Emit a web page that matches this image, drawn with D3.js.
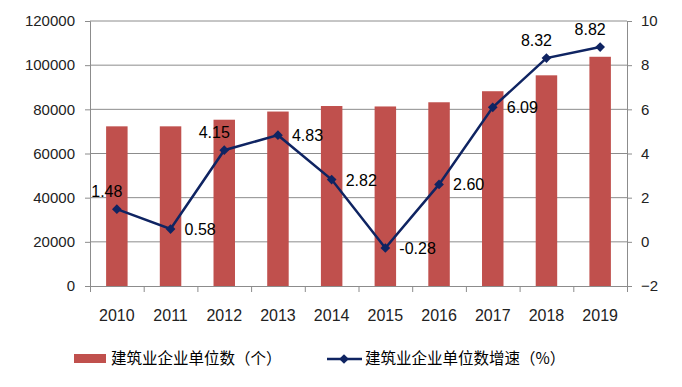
<!DOCTYPE html>
<meta charset="utf-8">
<script src="https://d3js.org/d3.v7.min.js"></script>
<style>
  body { margin: 0; background: #fff; }
  text { font-family: "Liberation Sans", Arial, sans-serif; }
</style>
<div id="chart"></div>
<script>
    // data
    const years = ["2010", "2011", "2012", "2013", "2014", "2015", "2016", "2017", "2018", "2019"];
    const units = [72300, 72300, 75300, 79000, 81500, 81300, 83200, 88200, 95400, 103800];
    const growth = [1.48, 0.58, 4.15, 4.83, 2.82, -0.28, 2.60, 6.09, 8.32, 8.82];
    const growthLabels = ["1.48", "0.58", "4.15", "4.83", "2.82", "-0.28", "2.60", "6.09", "8.32", "8.82"];
    const labelSide = ["top", "right", "top", "right", "right", "right", "right", "right", "top", "top"];
    const leftTicks = [0, 20000, 40000, 60000, 80000, 100000, 120000];
    const rightTicks = [-2, 0, 2, 4, 6, 8, 10];
    const barName = "建筑业企业单位数（个）";
    const lineName = "建筑业企业单位数增速（%）";

    const W = 682, H = 387;
    const margin = { top: 21, right: 55, bottom: 101, left: 90 };
    const width = W - margin.left - margin.right,
        height = H - margin.top - margin.bottom;

    const barColor = "#c0504d", lineColor = "#0f2462", gridColor = "#8c8c8c";

    const svg = d3.select("#chart").append("svg")
        .attr("width", W).attr("height", H);
    const g = svg.append("g").attr("transform", `translate(${margin.left},${margin.top})`);

    const x = d3.scaleBand().domain(years).range([0, width]).paddingInner(0.6).paddingOuter(0.3);
    const yL = d3.scaleLinear().domain([0, 120000]).range([height, 0]);
    const yR = d3.scaleLinear().domain([-2, 10]).range([height, 0]);
    const cx = d => x(d) + x.bandwidth() / 2;

    // gridlines
    g.selectAll("line.grid").data(leftTicks.slice(1)).join("line")
        .attr("x1", 0).attr("x2", width)
        .attr("y1", d => yL(d)).attr("y2", d => yL(d))
        .attr("stroke", gridColor).attr("stroke-width", 1);

    // bars
    g.selectAll("rect.bar").data(units).join("rect")
        .attr("x", (d, i) => x(years[i]))
        .attr("y", d => yL(d))
        .attr("width", x.bandwidth())
        .attr("height", d => height - yL(d))
        .attr("fill", barColor);

    // left axis
    const la = g.append("g")
        .call(d3.axisLeft(yL).tickValues(leftTicks).tickSize(5).tickPadding(10).tickFormat(d3.format("d")));
    // right axis
    const ra = g.append("g").attr("transform", `translate(${width},0)`)
        .call(d3.axisRight(yR).tickValues(rightTicks).tickSize(5).tickPadding(9));
    // bottom axis, ticks between categories
    const xb = d3.scaleLinear().domain([0, years.length]).range([0, width]);
    const ba = g.append("g").attr("transform", `translate(0,${height})`)
        .call(d3.axisBottom(xb).tickValues(d3.range(years.length + 1)).tickSize(6).tickFormat(""));
    [la, ra, ba].forEach(a => {
        a.select(".domain").attr("stroke", gridColor);
        a.selectAll(".tick line").attr("stroke", gridColor);
        a.selectAll("text").attr("fill", "#222").style("font-size", "15px");
    });
    g.selectAll("text.cat").data(years).join("text")
        .attr("x", d => cx(d)).attr("y", height + 35)
        .attr("text-anchor", "middle").style("font-size", "16px").attr("fill", "#222")
        .text(d => d);

    // growth line
    const line = d3.line().x((d, i) => cx(years[i])).y(d => yR(d));
    g.append("path").datum(growth)
        .attr("d", line).attr("fill", "none")
        .attr("stroke", lineColor).attr("stroke-width", 2.5);
    const diamond = d3.symbol().type(d3.symbolDiamond2).size(60);
    g.selectAll("path.pt").data(growth).join("path")
        .attr("d", diamond)
        .attr("transform", (d, i) => `translate(${cx(years[i])},${yR(d)})`)
        .attr("fill", lineColor);

    // data labels
    g.selectAll("text.lbl").data(growth).join("text")
        .attr("x", (d, i) => labelSide[i] === "top" ? cx(years[i]) - 10 : cx(years[i]) + 14)
        .attr("y", (d, i) => labelSide[i] === "top" ? yR(d) - 12 : yR(d) + 6)
        .attr("text-anchor", (d, i) => labelSide[i] === "top" ? "middle" : "start")
        .style("font-size", "16px").attr("fill", "#000")
        .text((d, i) => growthLabels[i]);

    // legend
    const lg = svg.append("g");
    lg.append("rect").attr("x", 74).attr("y", 354).attr("width", 32).attr("height", 9).attr("fill", barColor);
    lg.append("text").attr("x", 111).attr("y", 364).style("font-size", "15.5px")
        .style("font-family", "'Noto Sans CJK SC', sans-serif").attr("fill", "#000").text(barName);
    lg.append("line").attr("x1", 327).attr("x2", 362).attr("y1", 359).attr("y2", 359)
        .attr("stroke", lineColor).attr("stroke-width", 2.5);
    lg.append("path").attr("d", diamond).attr("transform", "translate(344,359)").attr("fill", lineColor);
    lg.append("text").attr("x", 365).attr("y", 364).style("font-size", "15.5px")
        .style("font-family", "'Noto Sans CJK SC', sans-serif").attr("fill", "#000").text(lineName);
</script>
